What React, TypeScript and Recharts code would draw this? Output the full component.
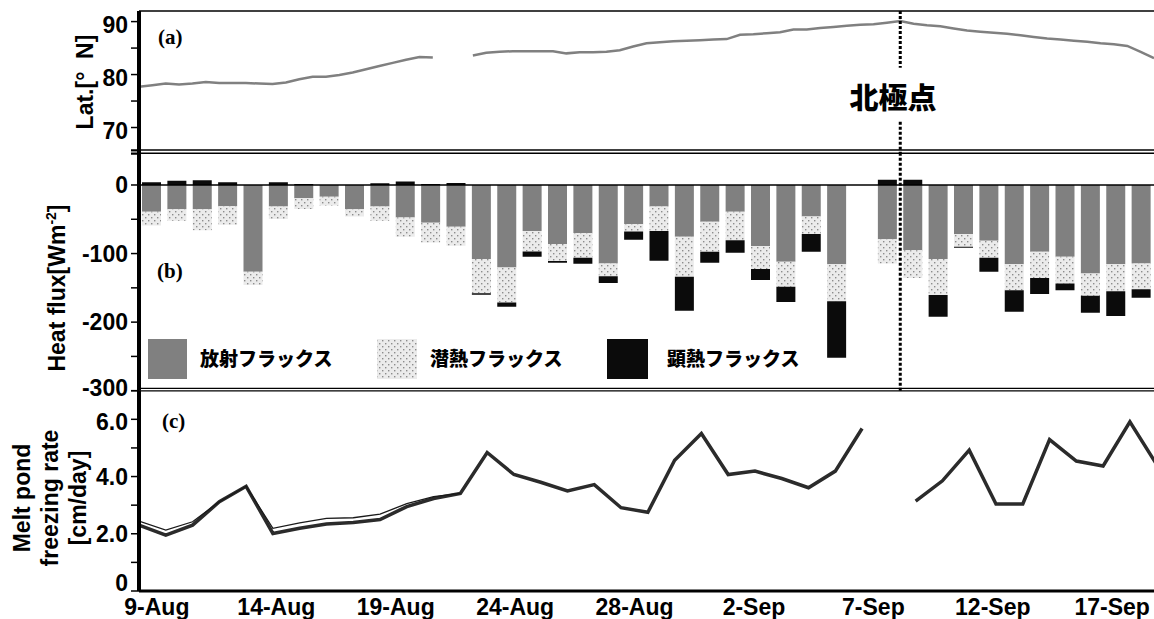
import React from 'react';
import { LineChart, Line, BarChart, Bar, XAxis, YAxis, ReferenceLine } from 'recharts';

// ---------- Data ----------
// (a) ship latitude, sampled every half day
const latStep = 0.5;
const latValues: (number | null)[] = [
  77.7, 78.0, 78.3, 78.1, 78.3, 78.6, 78.4, 78.4, 78.4, 78.3,
  78.2, 78.5, 79.1, 79.6, 79.6, 79.9, 80.4, 81.0, 81.6, 82.2,
  82.8, 83.3, 83.2, null, null, 83.6, 84.1, 84.3, 84.4, 84.4,
  84.4, 84.4, 84.0, 84.2, 84.2, 84.3, 84.6, 85.3, 85.9, 86.1,
  86.3, 86.4, 86.5, 86.6, 86.7, 87.5, 87.6, 87.8, 88.0, 88.5,
  88.5, 88.8, 89.0, 89.2, 89.4, 89.5, 89.8, 90.1, 89.6, 89.3,
  89.1, 88.7, 88.3, 88.1, 87.9, 87.7, 87.4, 87.1, 86.8, 86.6,
  86.4, 86.2, 85.9, 85.7, 85.4, 84.3, 83.1,
];
const northPolePos = 28.5;
const latTicks = [65, 70, 75, 80, 85, 90];
const latTickLabels = ['', '70', '', '80', '', '90'];

// (b) daily heat fluxes [W m-2]
const fluxDates = [
  '9-Aug', '10-Aug', '11-Aug', '12-Aug', '13-Aug', '14-Aug', '15-Aug', '16-Aug', '17-Aug', '18-Aug',
  '19-Aug', '20-Aug', '21-Aug', '22-Aug', '23-Aug', '24-Aug', '25-Aug', '26-Aug', '27-Aug', '28-Aug',
  '29-Aug', '30-Aug', '31-Aug', '1-Sep', '2-Sep', '3-Sep', '4-Sep', '5-Sep', '6-Sep', '7-Sep',
  '8-Sep', '9-Sep', '10-Sep', '11-Sep', '12-Sep', '13-Sep', '14-Sep', '15-Sep', '16-Sep', '17-Sep',
];
const radiationFlux: (number | null)[] = [
  -39, -35.5, -35.5, -31, -126.5, -31.5, -19.5, -17, -35.5, -31.5,
  -47.5, -55, -61, -108, -120.5, -67, -86, -70, -114.5, -57,
  -31.5, -75.5, -53.5, -39, -89, -112, -46, -115.5, null, -79,
  -95, -108, -71.5, -81.5, -115.5, -97.5, -104.5, -129, -115.5, -114.5,
];
const latentFlux: (number | null)[] = [
  -20, -16.5, -30.5, -27, -19.5, -18, -15.5, -13, -10.5, -20.5,
  -28, -29, -27.5, -50, -51, -30, -25, -36, -18.5, -11,
  -35.5, -58.5, -44, -41.5, -33.5, -36.5, -25.5, -54, null, -35.5,
  -40.5, -52.5, -18.5, -24.5, -38, -38, -39, -32.5, -39.5, -37.5,
];
const sensibleFlux: (number | null)[] = [
  4, 6, 7, 4, 0, 4, 1.5, 0, 0, 2.5,
  5, 1.5, 3, -2, -6, -7.5, -2.5, -9, -10, -12,
  -43.5, -49.5, -16, -18.5, -16, -22, -26, -82.5, null, 7.5,
  7.5, -31.5, -1.5, -20.5, -31.5, -23.5, -10, -25, -36, -12.5,
];
const northPoleDate = '8-Sep';
const fluxTicks = [-300, -250, -200, -150, -100, -50, 0, 50];
const fluxTickLabels = ['-300', '', '-200', '', '-100', '', '0', ''];

// (c) melt pond freezing rate [cm/day]
const freezeRate: (number | null)[] = [
  2.30, 1.95, 2.30, 3.12, 3.66, 2.01, 2.19, 2.34, 2.39, 2.50,
  2.95, 3.23, 3.41, 4.84, 4.07, 3.80, 3.50, 3.72, 2.91, 2.75,
  4.57, 5.50, 4.07, 4.19, 3.93, 3.61, 4.19, 5.68, null, 3.14,
  3.85, 4.92, 3.04, 3.04, 5.29, 4.54, 4.37, 5.91, 4.42,
];
const freezeRateAlt: (number | null)[] = [
  2.44, 2.13, 2.42, 3.12, 3.66, 2.19, 2.38, 2.54, 2.56, 2.69,
  3.05, 3.30, 3.41, null, null, null, null, null, null, null,
  null, null, null, null, null, null, null, null, null, null,
  null, null, null, null, null, null, null, null, null,
];
const rateTicks = [0, 1, 2, 3, 4, 5, 6, 7];
const rateTickLabels = ['0', '', '2.0', '', '4.0', '', '6.0', ''];
const dateTickIndex = [0, 5, 10, 15, 20, 25, 30, 35, 40];
const dateTickLabels = ['9-Aug', '14-Aug', '19-Aug', '24-Aug', '28-Aug', '2-Sep', '7-Sep', '12-Sep', '17-Sep'];

// ---------- Derived tables ----------
const latData = latValues.map((v, k) => ({ p: k * latStep, lat: v }));
const fluxData = fluxDates.map((d, i) => ({
  date: d,
  rad: radiationFlux[i],
  lat: latentFlux[i],
  sens: sensibleFlux[i],
}));
const rateData = freezeRate.map((v, i) => ({ i, rate: v, alt: freezeRateAlt[i] }));

// ---------- Style ----------
const FONT = '"Liberation Sans", Arial, Helvetica, sans-serif';
const CJK = '"Noto Sans CJK JP", "Noto Sans CJK SC", sans-serif';
const SERIF = '"Liberation Serif", "Times New Roman", serif';
const W = 1154;
const H = 619;
const AXIS_W = 139;

function makeYTick(ticks: number[], labels: string[], dy: string, shift: Record<string, number> = {}) {
  return (props: any) => {
    const { x, y, payload } = props;
    const idx = ticks.indexOf(Number(payload.value));
    const t = idx >= 0 ? labels[idx] : '';
    if (!t) return <g />;
    return (
      <text
        x={x}
        y={y + (shift[t] || 0)}
        dy={dy}
        textAnchor="end"
        fontFamily={FONT}
        fontWeight="bold"
        fontSize={23}
        fill="#000"
      >
        {t}
      </text>
    );
  };
}

const DateTick = (props: any) => {
  const { x, y, payload } = props;
  const idx = dateTickIndex.indexOf(Number(payload.value));
  const t = idx >= 0 ? dateTickLabels[idx] : '';
  return (
    <text x={x} y={y + 24} textAnchor="middle" fontFamily={FONT} fontWeight="bold" fontSize={23} fill="#000">
      {t}
    </text>
  );
};

const abs: React.CSSProperties = { position: 'absolute', left: 0, top: 0 };
const axisLine = { stroke: '#000', strokeWidth: 4 };
const tickLine = { stroke: '#000', strokeWidth: 1.5 };

export default function App() {
  return (
    <div style={{ position: 'absolute', left: 0, top: 0, width: W, height: H, background: '#fff', overflow: 'hidden' }}>
      {/* pattern for latent heat flux */}
      <svg width={0} height={0} style={{ position: 'absolute' }}>
        <defs>
          <pattern id="latentDots" width="6" height="6" patternUnits="userSpaceOnUse">
            <rect width="6" height="6" fill="#ebebeb" />
            <rect x="1" y="1" width="1.4" height="1.4" fill="#8c8c8c" />
            <rect x="4" y="4" width="1.4" height="1.4" fill="#8c8c8c" />
          </pattern>
        </defs>
      </svg>

      {/* (a) latitude */}
      <div style={abs}>
        <LineChart width={W} height={H} data={latData} margin={{ top: 11, right: 0, bottom: 465, left: 0 }}>
          <XAxis type="number" dataKey="p" domain={[0, 38]} allowDataOverflow hide />
          <YAxis
            type="number"
            domain={[65, 92]}
            allowDataOverflow
            ticks={latTicks}
            interval={0}
            width={AXIS_W}
            tickSize={8}
            tickMargin={3}
            axisLine={axisLine}
            tickLine={tickLine}
            tick={makeYTick(latTicks, latTickLabels, '0.5em')}
          />
          <Line
            type="linear"
            dataKey="lat"
            stroke="#808080"
            strokeWidth={2.5}
            dot={false}
            connectNulls={false}
            isAnimationActive={false}
          />
          <ReferenceLine
            segment={[{ x: northPolePos, y: 92 }, { x: northPolePos, y: 81.3 }]}
            stroke="#000"
            strokeWidth={3}
            strokeDasharray="3 2"
          />
          <ReferenceLine
            segment={[{ x: northPolePos, y: 71.1 }, { x: northPolePos, y: 65 }]}
            stroke="#000"
            strokeWidth={3}
            strokeDasharray="3 2"
          />
        </LineChart>
      </div>

      {/* (b) heat flux */}
      <div style={abs}>
        <BarChart
          width={W}
          height={H}
          data={fluxData}
          stackOffset="sign"
          barCategoryGap={0}
          margin={{ top: 150.7, right: 0, bottom: 228.3, left: 0 }}
        >
          <XAxis type="category" dataKey="date" hide />
          <YAxis
            type="number"
            domain={[-300, 50]}
            allowDataOverflow
            ticks={fluxTicks}
            interval={0}
            width={AXIS_W}
            tickSize={8}
            tickMargin={3}
            axisLine={axisLine}
            tickLine={tickLine}
            tick={makeYTick(fluxTicks, fluxTickLabels, '0.36em', { '-300': -3 })}
          />
          <ReferenceLine y={0} stroke="#000" strokeWidth={1.5} />
          <Bar dataKey="rad" stackId="f" fill="#808080" barSize={19} isAnimationActive={false} />
          <Bar dataKey="lat" stackId="f" fill="url(#latentDots)" barSize={19} isAnimationActive={false} />
          <Bar dataKey="sens" stackId="f" fill="#0b0b0b" barSize={19} isAnimationActive={false} />
          <ReferenceLine
            x={northPoleDate}
            position="start"
            stroke="#000"
            strokeWidth={3}
            strokeDasharray="3 2"
          />
        </BarChart>
      </div>

      {/* (c) freezing rate */}
      <div style={abs}>
        <LineChart width={W} height={H} data={rateData} margin={{ top: 390.7, right: 0, bottom: 0, left: 0 }}>
          <XAxis xAxisId="idx" type="number" dataKey="i" domain={[0, 37.9]} allowDataOverflow hide />
          <XAxis
            xAxisId="date"
            type="number"
            dataKey="i"
            domain={[-0.75, 41.75]}
            allowDataOverflow
            ticks={dateTickIndex}
            interval={0}
            height={28}
            tickSize={0}
            tickMargin={0}
            tickLine={false}
            axisLine={{ stroke: '#000', strokeWidth: 3 }}
            tick={<DateTick />}
          />
          <YAxis
            type="number"
            domain={[0, 7]}
            allowDataOverflow
            ticks={rateTicks}
            interval={0}
            width={AXIS_W}
            tickSize={8}
            tickMargin={3}
            axisLine={axisLine}
            tickLine={tickLine}
            tick={makeYTick(rateTicks, rateTickLabels, '0.36em', { '0': -8, '6.0': 2 })}
          />
          <Line
            xAxisId="idx"
            type="linear"
            dataKey="rate"
            stroke="#2b2b2b"
            strokeWidth={3.5}
            dot={false}
            connectNulls={false}
            isAnimationActive={false}
          />
          <Line
            xAxisId="idx"
            type="linear"
            dataKey="alt"
            stroke="#1a1a1a"
            strokeWidth={1.3}
            dot={false}
            connectNulls={false}
            isAnimationActive={false}
          />
        </LineChart>
      </div>

      {/* frame lines, labels, legend */}
      <svg width={W} height={H} style={{ ...abs, pointerEvents: 'none' }}>
        <line x1={139} y1={11} x2={W} y2={11} stroke="#000" strokeWidth={1.5} />
        <line x1={131} y1={150} x2={W} y2={150} stroke="#000" strokeWidth={1.4} />
        <line x1={131} y1={153.3} x2={W} y2={153.3} stroke="#000" strokeWidth={1.4} />
        <line x1={139} y1={388.3} x2={W} y2={388.3} stroke="#000" strokeWidth={1.2} />
        <line x1={139} y1={390.9} x2={W} y2={390.9} stroke="#000" strokeWidth={1.2} />

        {/* axis titles */}
        <text
          transform="translate(85,82) rotate(-90)"
          textAnchor="middle"
          dy="0.36em"
          fontFamily={FONT}
          fontWeight="bold"
          fontSize={23}
          fill="#000"
        >
          Lat.[°{'\u00A0\u00A0'}N]
        </text>
        <text
          transform="translate(57,288) rotate(-90)"
          textAnchor="middle"
          dy="0.36em"
          fontFamily={FONT}
          fontWeight="bold"
          fontSize={23}
          fill="#000"
        >
          Heat flux[Wm<tspan fontSize={14} dy={-9}>-2</tspan>
          <tspan dy={9}>]</tspan>
        </text>
        {['Melt pond', 'freezing rate', '[cm/day]'].map((s, k) => (
          <text
            key={s}
            transform={`translate(${22 + k * 28},498) rotate(-90)`}
            textAnchor="middle"
            dy="0.36em"
            fontFamily={FONT}
            fontWeight="bold"
            fontSize={23}
            fill="#000"
          >
            {s}
          </text>
        ))}

        {/* panel labels */}
        <text x={158} y={44} fontFamily={SERIF} fontWeight="bold" fontSize={21} fill="#000">(a)</text>
        <text x={157} y={278} fontFamily={SERIF} fontWeight="bold" fontSize={21} fill="#000">(b)</text>
        <text x={162} y={428} fontFamily={SERIF} fontWeight="bold" fontSize={21} fill="#000">(c)</text>

        {/* north pole label */}
        <text x={893} y={98.5} dy="0.36em" textAnchor="middle" fontFamily={CJK} fontWeight={900} fontSize={29} fill="#000">
          北極点
        </text>

        {/* legend */}
        <rect x={148} y={339} width={39} height={40} fill="#808080" />
        <text x={200} y={359} dy="0.36em" fontFamily={CJK} fontWeight={900} fontSize={19} fill="#000">放射フラックス</text>
        <rect x={377} y={339} width={40} height={40} fill="url(#latentDots)" />
        <text x={430} y={359} dy="0.36em" fontFamily={CJK} fontWeight={900} fontSize={19} fill="#000">潜熱フラックス</text>
        <rect x={607} y={339} width={41} height={40} fill="#0b0b0b" />
        <text x={667} y={359} dy="0.36em" fontFamily={CJK} fontWeight={900} fontSize={19} fill="#000">顕熱フラックス</text>
      </svg>
    </div>
  );
}
